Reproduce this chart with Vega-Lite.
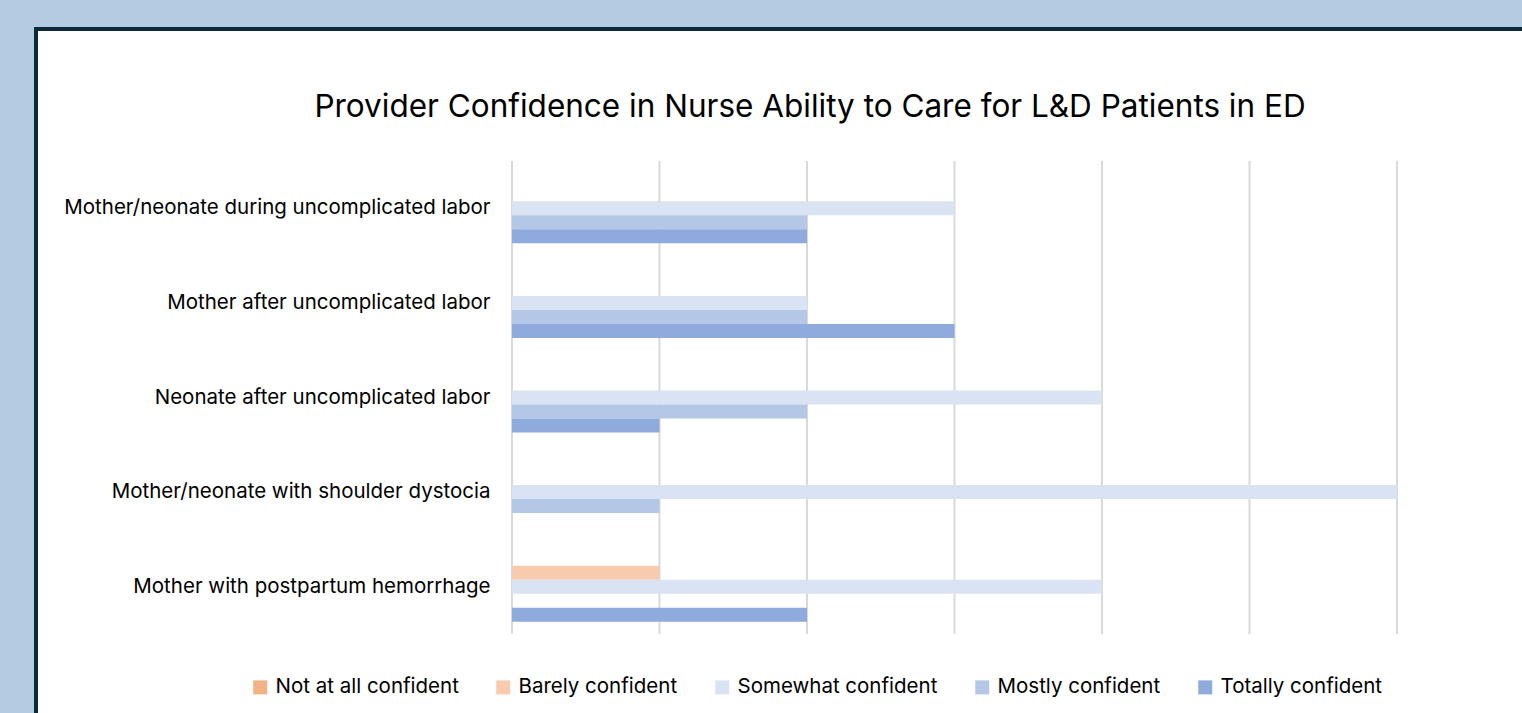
{
  "$schema": "https://vega.github.io/schema/vega-lite/v6.json",
  "autosize": "none",
  "width": 1548,
  "height": 720,
  "padding": {"left": 36, "top": 29, "right": 0, "bottom": 0},
  "background": "#b4cce2",
  "config": {
    "font": "Inter",
    "view": {"fill": "white", "stroke": "#0d2a3a", "strokeWidth": 4}
  },
  "title": {
    "text": "Provider Confidence in Nurse Ability to Care for L&D Patients in ED",
    "fontSize": 31.5,
    "fontWeight": "normal",
    "color": "#000000",
    "anchor": "middle",
    "offset": -94,
    "font": "Inter"
  },
  "datasets": {
    "bars": [
      {"item": "Mother/neonate during uncomplicated labor", "level": "Somewhat confident", "count": 3},
      {"item": "Mother/neonate during uncomplicated labor", "level": "Mostly confident", "count": 2},
      {"item": "Mother/neonate during uncomplicated labor", "level": "Totally confident", "count": 2},
      {"item": "Mother after uncomplicated labor", "level": "Somewhat confident", "count": 2},
      {"item": "Mother after uncomplicated labor", "level": "Mostly confident", "count": 2},
      {"item": "Mother after uncomplicated labor", "level": "Totally confident", "count": 3},
      {"item": "Neonate after uncomplicated labor", "level": "Somewhat confident", "count": 4},
      {"item": "Neonate after uncomplicated labor", "level": "Mostly confident", "count": 2},
      {"item": "Neonate after uncomplicated labor", "level": "Totally confident", "count": 1},
      {"item": "Mother/neonate with shoulder dystocia", "level": "Somewhat confident", "count": 6},
      {"item": "Mother/neonate with shoulder dystocia", "level": "Mostly confident", "count": 1},
      {"item": "Mother with postpartum hemorrhage", "level": "Barely confident", "count": 1},
      {"item": "Mother with postpartum hemorrhage", "level": "Somewhat confident", "count": 4},
      {"item": "Mother with postpartum hemorrhage", "level": "Totally confident", "count": 2}
    ],
    "grid": [
      {"value": 0}, {"value": 1}, {"value": 2}, {"value": 3}, {"value": 4}, {"value": 5}, {"value": 6}
    ]
  },
  "layer": [
    {
      "data": {"name": "grid"},
      "mark": {"type": "rule", "color": "#d9d9d9", "strokeWidth": 2},
      "encoding": {
        "x": {"field": "value", "type": "quantitative", "scale": {"domain": [0, 6], "range": [476, 1361]}, "axis": null},
        "y": {"datum": 0, "type": "quantitative", "scale": {"domain": [0, 1], "range": [132, 605]}, "axis": null},
        "y2": {"datum": 1}
      }
    },
    {
      "data": {"name": "bars"},
      "mark": {"type": "bar"},
      "encoding": {
        "x": {"field": "count", "type": "quantitative", "scale": {"domain": [0, 6], "range": [476, 1361]}, "axis": null},
        "y": {
          "field": "item",
          "type": "nominal",
          "sort": ["Mother/neonate during uncomplicated labor", "Mother after uncomplicated labor", "Neonate after uncomplicated labor", "Mother/neonate with shoulder dystocia", "Mother with postpartum hemorrhage"],
          "scale": {"range": [132, 605], "paddingInner": 0.26, "paddingOuter": 0.13},
          "axis": {
            "title": null,
            "orient": "left",
            "domain": false,
            "ticks": false,
            "labelPadding": -454,
            "labelFontSize": 20.5,
            "labelColor": "#000000",
            "labelLimit": 0,
            "labelFont": "Inter"
          }
        },
        "yOffset": {
          "field": "level",
          "type": "nominal",
          "sort": ["Not at all confident", "Barely confident", "Somewhat confident", "Mostly confident", "Totally confident"],
          "scale": {"domain": ["Not at all confident", "Barely confident", "Somewhat confident", "Mostly confident", "Totally confident"], "paddingInner": 0, "paddingOuter": 0}
        },
        "color": {
          "field": "level",
          "type": "nominal",
          "scale": {
            "domain": ["Not at all confident", "Barely confident", "Somewhat confident", "Mostly confident", "Totally confident"],
            "range": ["#f4b183", "#f8cbad", "#dae3f3", "#b4c7e7", "#8faadc"]
          },
          "legend": {
            "title": null,
            "orient": "none",
            "direction": "horizontal",
            "legendX": 214,
            "legendY": 648,
            "symbolType": "square",
            "symbolSize": 196,
            "symbolStrokeWidth": 0,
            "labelFontSize": 20.5,
            "labelColor": "#000000",
            "labelFont": "Inter",
            "labelOffset": 5,
            "columnPadding": 34,
            "labelLimit": 0
          }
        }
      }
    }
  ],
  "resolve": {"scale": {"y": "independent"}}
}
